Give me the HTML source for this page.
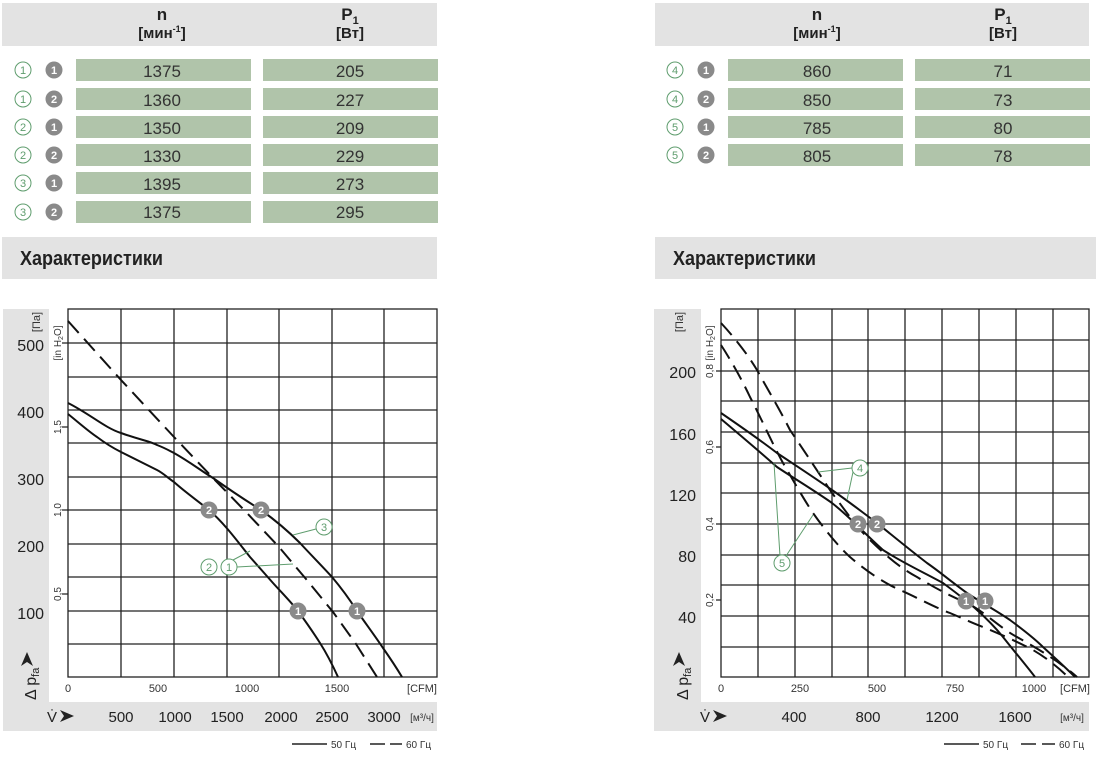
<!DOCTYPE html>
<html><head><meta charset="utf-8"><style>
html,body{margin:0;padding:0;background:#fff;}
svg{display:block;font-family:"Liberation Sans",sans-serif;}
</style></head><body>
<svg width="1096" height="761" viewBox="0 0 1096 761" xmlns="http://www.w3.org/2000/svg">
<!-- Left table -->
<rect x="2" y="3" width="435" height="43" fill="#e3e3e3"/>
<text x="162" y="20" font-size="17" font-weight="bold" text-anchor="middle" fill="#222">n</text>
<text x="162" y="38" font-size="15" font-weight="bold" text-anchor="middle" fill="#222">[мин<tspan font-size="9" dy="-6">-1</tspan><tspan dy="6">]</tspan></text>
<text x="350" y="20" font-size="17" font-weight="bold" text-anchor="middle" fill="#222">P<tspan font-size="11" dy="4">1</tspan></text>
<text x="350" y="38" font-size="15" font-weight="bold" text-anchor="middle" fill="#222">[Вт]</text>
<g font-size="17" text-anchor="middle" fill="#333">
<g fill="#b0c4aa">
<rect x="76" y="59" width="175" height="22"/><rect x="263" y="59" width="175" height="22"/>
<rect x="76" y="88" width="175" height="22"/><rect x="263" y="88" width="175" height="22"/>
<rect x="76" y="116" width="175" height="22"/><rect x="263" y="116" width="175" height="22"/>
<rect x="76" y="144" width="175" height="22"/><rect x="263" y="144" width="175" height="22"/>
<rect x="76" y="172" width="175" height="22"/><rect x="263" y="172" width="175" height="22"/>
<rect x="76" y="201" width="175" height="22"/><rect x="263" y="201" width="175" height="22"/>
</g>
<text x="162" y="77">1375</text><text x="350" y="77">205</text>
<text x="162" y="106">1360</text><text x="350" y="106">227</text>
<text x="162" y="134">1350</text><text x="350" y="134">209</text>
<text x="162" y="162">1330</text><text x="350" y="162">229</text>
<text x="162" y="190">1395</text><text x="350" y="190">273</text>
<text x="162" y="218">1375</text><text x="350" y="218">295</text>
</g>
<g font-size="11" text-anchor="middle" font-weight="bold">
<g fill="#fff" stroke="#5f9d6e" stroke-width="1"><circle cx="23" cy="70" r="8"/><circle cx="23" cy="99" r="8"/><circle cx="23" cy="127" r="8"/><circle cx="23" cy="155" r="8"/><circle cx="23" cy="183" r="8"/><circle cx="23" cy="212" r="8"/></g>
<g fill="#5f9d6e" font-weight="normal"><text x="23" y="74">1</text><text x="23" y="103">1</text><text x="23" y="131">2</text><text x="23" y="159">2</text><text x="23" y="187">3</text><text x="23" y="216">3</text></g>
<g fill="#8a8a8a"><circle cx="54" cy="70" r="8.5"/><circle cx="54" cy="99" r="8.5"/><circle cx="54" cy="127" r="8.5"/><circle cx="54" cy="155" r="8.5"/><circle cx="54" cy="183" r="8.5"/><circle cx="54" cy="212" r="8.5"/></g>
<g fill="#fff"><text x="54" y="74">1</text><text x="54" y="103">2</text><text x="54" y="131">1</text><text x="54" y="159">2</text><text x="54" y="187">1</text><text x="54" y="216">2</text></g>
</g>
<!-- Right table -->
<rect x="655" y="3" width="434" height="43" fill="#e3e3e3"/>
<text x="817" y="20" font-size="17" font-weight="bold" text-anchor="middle" fill="#222">n</text>
<text x="817" y="38" font-size="15" font-weight="bold" text-anchor="middle" fill="#222">[мин<tspan font-size="9" dy="-6">-1</tspan><tspan dy="6">]</tspan></text>
<text x="1003" y="20" font-size="17" font-weight="bold" text-anchor="middle" fill="#222">P<tspan font-size="11" dy="4">1</tspan></text>
<text x="1003" y="38" font-size="15" font-weight="bold" text-anchor="middle" fill="#222">[Вт]</text>
<g font-size="17" text-anchor="middle" fill="#333">
<g fill="#b0c4aa">
<rect x="728" y="59" width="175" height="22"/><rect x="915" y="59" width="175" height="22"/>
<rect x="728" y="88" width="175" height="22"/><rect x="915" y="88" width="175" height="22"/>
<rect x="728" y="116" width="175" height="22"/><rect x="915" y="116" width="175" height="22"/>
<rect x="728" y="144" width="175" height="22"/><rect x="915" y="144" width="175" height="22"/>
</g>
<text x="817" y="77">860</text><text x="1003" y="77">71</text>
<text x="817" y="106">850</text><text x="1003" y="106">73</text>
<text x="817" y="134">785</text><text x="1003" y="134">80</text>
<text x="817" y="162">805</text><text x="1003" y="162">78</text>
</g>
<g font-size="11" text-anchor="middle" font-weight="bold">
<g fill="#fff" stroke="#5f9d6e" stroke-width="1"><circle cx="675" cy="70" r="8"/><circle cx="675" cy="99" r="8"/><circle cx="675" cy="127" r="8"/><circle cx="675" cy="155" r="8"/></g>
<g fill="#5f9d6e" font-weight="normal"><text x="675" y="74">4</text><text x="675" y="103">4</text><text x="675" y="131">5</text><text x="675" y="159">5</text></g>
<g fill="#8a8a8a"><circle cx="706" cy="70" r="8.5"/><circle cx="706" cy="99" r="8.5"/><circle cx="706" cy="127" r="8.5"/><circle cx="706" cy="155" r="8.5"/></g>
<g fill="#fff"><text x="706" y="74">1</text><text x="706" y="103">2</text><text x="706" y="131">1</text><text x="706" y="159">2</text></g>
</g>
<!-- Titles -->
<rect x="2" y="237" width="435" height="42" fill="#e3e3e3"/>
<text x="20" y="265" font-size="20" font-weight="bold" fill="#222" textLength="143" lengthAdjust="spacingAndGlyphs">Характеристики</text>
<rect x="655" y="237" width="441" height="42" fill="#e3e3e3"/>
<text x="673" y="265" font-size="20" font-weight="bold" fill="#222" textLength="143" lengthAdjust="spacingAndGlyphs">Характеристики</text>

<!-- LEFT CHART -->
<rect x="3" y="309" width="46" height="422" fill="#e3e3e3"/>
<rect x="3" y="702" width="434" height="29" fill="#e3e3e3"/>
<g stroke="#222" stroke-width="1.3" fill="none">
<rect x="68" y="309" width="369" height="368"/>
<path d="M121 309V677M174 309V677M227 309V677M279 309V677M332 309V677M384 309V677"/>
<path d="M68 343H437M68 377H437M68 410H437M68 443H437M68 477H437M68 510H437M68 544H437M68 577H437M68 611H437M68 644H437"/>
<path d="M62 343H68M62 427H68M62 510H68M62 594H68"/>
</g>
<g font-size="16" fill="#222" text-anchor="end">
<text x="44" y="351">500</text><text x="44" y="418">400</text><text x="44" y="485">300</text><text x="44" y="552">200</text><text x="44" y="619">100</text>
</g>
<g font-size="10" fill="#333" text-anchor="middle">
<text transform="translate(61,343) rotate(-90)">[in H<tspan font-size="7" dy="2">2</tspan><tspan dy="-2">O]</tspan></text>
<text transform="translate(61,427) rotate(-90)">1,5</text>
<text transform="translate(61,510) rotate(-90)">1,0</text>
<text transform="translate(61,594) rotate(-90)">0,5</text>
<text transform="translate(40,322) rotate(-90)" font-size="11">[Па]</text>
</g>
<g fill="#222"><path d="M27 652 L21 666 L27 662 L33 666Z"/></g>
<text transform="translate(36,700) rotate(-90)" font-size="16" fill="#222">Δ p<tspan font-size="11" dy="3">fa</tspan></text>
<g font-size="11" fill="#333" text-anchor="middle">
<text x="68" y="692">0</text><text x="158" y="692">500</text><text x="247" y="692">1000</text><text x="337" y="692">1500</text><text x="422" y="692">[CFM]</text>
</g>
<g font-size="15" fill="#222" text-anchor="middle">
<text x="121" y="722">500</text><text x="175" y="722">1000</text><text x="227" y="722">1500</text><text x="281" y="722">2000</text><text x="332" y="722">2500</text><text x="384" y="722">3000</text>
</g>
<text x="422" y="721" font-size="10" fill="#333" text-anchor="middle">[м³/ч]</text>
<text x="47" y="722" font-size="15" fill="#222">V̇</text>
<path d="M60 710 L74 716 L60 722 L64 716Z" fill="#222"/>
<!-- left curves -->
<g stroke="#111" stroke-width="2" fill="none">
<path d="M68 321 L121 380 L174 437 L213 478 L246 512 L279 547 L306 579 L333 612 L356 644 L377 677" stroke-dasharray="16,8"/>
<path d="M68 403 C90 414 105 428 121 433 C140 440 150 441 157 445 C165 448 170 451 174 453 C190 462 200 470 213 478 C230 490 245 500 261 510 C275 520 290 533 300 543 C312 556 322 566 332 577 C343 590 350 600 357 611 C366 624 375 636 383 648 C390 658 396 667 402 677"/>
<path d="M68 414 C78 422 88 431 97 437 C105 443 113 448 121 452 C135 459 147 465 157 470 C163 473 168 478 174 482 C185 492 198 501 209 510 C225 524 238 542 250 557 C258 566 266 575 273 583 C282 593 290 601 298 611 C306 622 313 632 320 643 C327 654 333 666 338 677"/>
</g>
<g stroke="#5f9d6e" stroke-width="1" fill="none">
<path d="M237 567 L293 564M233 560 L250 551M316 529 L293 535"/>
</g>
<g stroke="#5f9d6e" stroke-width="1" fill="#fff"><circle cx="324" cy="527" r="8"/><circle cx="209" cy="567" r="8"/><circle cx="229" cy="567" r="8"/></g>
<g font-size="11" fill="#5f9d6e" text-anchor="middle"><text x="324" y="531">3</text><text x="209" y="571">2</text><text x="229" y="571">1</text></g>
<g fill="#8a8a8a"><circle cx="209" cy="510" r="8.5"/><circle cx="261" cy="510" r="8.5"/><circle cx="298" cy="611" r="8.5"/><circle cx="357" cy="611" r="8.5"/></g>
<g font-size="11" font-weight="bold" fill="#fff" text-anchor="middle"><text x="209" y="514">2</text><text x="261" y="514">2</text><text x="298" y="615">1</text><text x="357" y="615">1</text></g>
<g stroke="#222" stroke-width="1.5"><path d="M292 744H327M370 744H385M390 744H402"/></g>
<g font-size="10" fill="#333"><text x="331" y="748">50 Гц</text><text x="406" y="748">60 Гц</text></g>

<!-- RIGHT CHART -->
<rect x="654" y="309" width="47" height="422" fill="#e3e3e3"/>
<rect x="654" y="702" width="435" height="29" fill="#e3e3e3"/>
<g stroke="#222" stroke-width="1.3" fill="none">
<rect x="721" y="309" width="368" height="368"/>
<path d="M758 309V677M795 309V677M832 309V677M868 309V677M905 309V677M942 309V677M979 309V677M1016 309V677M1053 309V677"/>
<path d="M721 340H1089M721 371H1089M721 401H1089M721 432H1089M721 463H1089M721 493H1089M721 524H1089M721 555H1089M721 585H1089M721 616H1089M721 647H1089"/>
<path d="M716 371H721M716 447H721M716 524H721M716 600H721"/>
</g>
<g font-size="16" fill="#222" text-anchor="end">
<text x="696" y="378">200</text><text x="696" y="440">160</text><text x="696" y="501">120</text><text x="696" y="562">80</text><text x="696" y="623">40</text>
</g>
<g font-size="10" fill="#333" text-anchor="middle">
<text transform="translate(713,343) rotate(-90)">[in H<tspan font-size="7" dy="2">2</tspan><tspan dy="-2">O]</tspan></text>
<text transform="translate(713,371) rotate(-90)">0,8</text>
<text transform="translate(713,447) rotate(-90)">0,6</text>
<text transform="translate(713,524) rotate(-90)">0,4</text>
<text transform="translate(713,600) rotate(-90)">0,2</text>
<text transform="translate(683,322) rotate(-90)" font-size="11">[Па]</text>
</g>
<g fill="#222"><path d="M679 652 L673 666 L679 662 L685 666Z"/></g>
<text transform="translate(688,700) rotate(-90)" font-size="16" fill="#222">Δ p<tspan font-size="11" dy="3">fa</tspan></text>
<g font-size="11" fill="#333" text-anchor="middle">
<text x="721" y="692">0</text><text x="800" y="692">250</text><text x="877" y="692">500</text><text x="955" y="692">750</text><text x="1034" y="692">1000</text><text x="1075" y="692">[CFM]</text>
</g>
<g font-size="15" fill="#222" text-anchor="middle">
<text x="794" y="722">400</text><text x="868" y="722">800</text><text x="942" y="722">1200</text><text x="1015" y="722">1600</text>
</g>
<text x="1072" y="721" font-size="10" fill="#333" text-anchor="middle">[м³/ч]</text>
<text x="700" y="722" font-size="15" fill="#222">V̇</text>
<path d="M713 710 L727 716 L713 722 L717 716Z" fill="#222"/>
<g stroke="#111" stroke-width="2" fill="none">
<path d="M721 323 C735 338 748 355 757 370 C768 390 780 410 790 430 C805 452 820 475 832 493 C845 510 855 525 867 537 C885 555 900 568 917 577 C935 588 950 596 967 603 C985 612 1000 628 1017 637 C1040 650 1060 662 1077 677" stroke-dasharray="16,8"/>
<path d="M721 345 C732 362 742 380 750 397 C762 420 772 443 783 463 C793 480 803 498 813 513 C825 530 838 546 850 557 C865 570 882 582 900 590 C918 598 934 607 950 613 C962 618 972 623 983 627 C1000 634 1018 642 1033 650 C1045 657 1058 667 1068 677" stroke-dasharray="16,8"/>
<path d="M721 413 C740 426 760 440 777 453 C795 465 815 478 832 490 C848 501 862 512 877 523 C893 536 910 550 927 563 C940 572 953 583 967 593 C982 603 997 611 1010 620 C1022 629 1033 637 1043 647 C1054 657 1065 667 1075 677"/>
<path d="M721 419 C740 435 760 452 777 467 C795 479 815 491 832 503 C850 517 866 535 883 550 C903 563 925 573 943 583 C955 592 966 600 977 610 C987 619 995 627 1003 637 C1014 651 1025 664 1035 677"/>
</g>
<g stroke="#5f9d6e" stroke-width="1" fill="none">
<path d="M852 468 L818 472M853 472 L847 500M780 556 L774 463M786 556 L813 515"/>
</g>
<g stroke="#5f9d6e" stroke-width="1" fill="#fff"><circle cx="860" cy="468" r="8"/><circle cx="782" cy="563" r="8"/></g>
<g font-size="11" fill="#5f9d6e" text-anchor="middle"><text x="860" y="472">4</text><text x="782" y="567">5</text></g>
<g fill="#8a8a8a"><circle cx="858" cy="524" r="8.5"/><circle cx="877" cy="524" r="8.5"/><circle cx="966" cy="601" r="8.5"/><circle cx="985" cy="601" r="8.5"/></g>
<g font-size="11" font-weight="bold" fill="#fff" text-anchor="middle"><text x="858" y="528">2</text><text x="877" y="528">2</text><text x="966" y="605">1</text><text x="985" y="605">1</text></g>
<g stroke="#222" stroke-width="1.5"><path d="M944 744H979M1021 744H1036M1042 744H1055"/></g>
<g font-size="10" fill="#333"><text x="983" y="748">50 Гц</text><text x="1059" y="748">60 Гц</text></g>
</svg>
</body></html>
